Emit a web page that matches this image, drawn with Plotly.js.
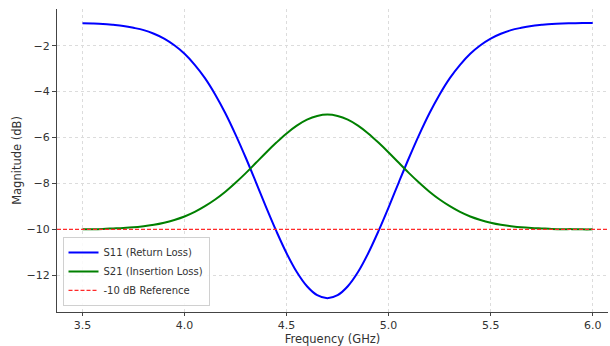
<!DOCTYPE html>
<html>
<head>
<meta charset="utf-8">
<script src="https://cdn.plot.ly/plotly-3.0.1.min.js"></script>
<style>html,body{margin:0;padding:0;background:#fff;}#chart{width:610px;height:346px;}</style>
</head>
<body>
<div id="chart"></div>
<script>
// Frequency points (GHz)
const freq = [3.50,3.55,3.60,3.65,3.70,3.75,3.80,3.85,3.90,3.95,
              4.00,4.05,4.10,4.15,4.20,4.25,4.30,4.35,4.40,4.45,
              4.50,4.55,4.60,4.65,4.70,4.75,4.80,4.85,4.90,4.95,
              5.00,5.05,5.10,5.15,5.20,5.25,5.30,5.35,5.40,5.45,
              5.50,5.55,5.60,5.65,5.70,5.75,5.80,5.85,5.90,5.95,6.00];
// S11 (Return Loss), dB
const s11 = [-1.02,-1.03,-1.05,-1.09,-1.14,-1.22,-1.32,-1.48,-1.69,-1.98,
             -2.35,-2.83,-3.41,-4.12,-4.94,-5.87,-6.88,-7.95,-9.04,-10.08,
             -11.04,-11.86,-12.48,-12.87,-13.00,-12.87,-12.48,-11.86,-11.04,-10.08,
             -9.04,-7.95,-6.88,-5.87,-4.94,-4.12,-3.41,-2.83,-2.35,-1.98,
             -1.69,-1.48,-1.32,-1.22,-1.14,-1.09,-1.05,-1.03,-1.02,-1.01,-1.01];
// S21 (Insertion Loss), dB
const s21 = [-9.99,-9.99,-9.98,-9.96,-9.94,-9.91,-9.86,-9.80,-9.71,-9.59,
             -9.44,-9.24,-8.99,-8.70,-8.36,-7.97,-7.55,-7.10,-6.65,-6.22,
             -5.82,-5.48,-5.22,-5.06,-5.00,-5.06,-5.22,-5.48,-5.82,-6.22,
             -6.65,-7.10,-7.55,-7.97,-8.36,-8.70,-8.99,-9.24,-9.44,-9.59,
             -9.71,-9.80,-9.86,-9.91,-9.94,-9.96,-9.98,-9.99,-9.99,-10.00,-10.00];
// Reference level (dB)
const refLevel = [-10, -10];
const refX = [3.375, 6.125];
const xRange = [3.375, 6.075];
const xTicks = [3.5, 4.0, 4.5, 5.0, 5.5, 6.0];
const xTickText = ["3.5", "4.0", "4.5", "5.0", "5.5", "6.0"];
const yTicks = [-2, -4, -6, -8, -10, -12];
const names = ["S11 (Return Loss)", "S21 (Insertion Loss)", "-10 dB Reference"];

const tickFont = {family: "DejaVu Sans, sans-serif", size: 11, color: "#333"};
const titleFont = {family: "DejaVu Sans, sans-serif", size: 11.5, color: "#333"};

const traces = [
  {x: freq, y: s11, type: "scatter", mode: "lines", name: names[0],
   line: {color: "#0000ff", width: 2, shape: "spline"}},
  {x: freq, y: s21, type: "scatter", mode: "lines", name: names[1],
   line: {color: "#008000", width: 2, shape: "spline"}},
  {x: refX, y: refLevel, type: "scatter", mode: "lines", name: names[2],
   line: {color: "#ff2a2a", width: 1.3, dash: "4px,2px"}}
];

const layout = {
  width: 610, height: 346,
  margin: {l: 57, r: 2, t: 9, b: 34},
  paper_bgcolor: "#fff", plot_bgcolor: "#fff",
  font: tickFont,
  showlegend: true,
  legend: {x: 0.01, y: 0.02, xanchor: "left", yanchor: "bottom",
           bgcolor: "rgba(255,255,255,0.85)", bordercolor: "#d0d0d0", borderwidth: 1,
           font: {family: "DejaVu Sans, sans-serif", size: 10, color: "#333"},
           itemwidth: 30, tracegroupgap: 0},
  xaxis: {range: xRange, tickvals: xTicks, ticktext: xTickText,
          showgrid: true, gridcolor: "#dcdcdc", griddash: "dot", gridwidth: 1,
          zeroline: false, showline: true, linecolor: "#444", linewidth: 1,
          ticks: "outside", ticklen: 3, tickcolor: "#444",
          title: {text: "Frequency (GHz)", font: titleFont, standoff: 2},
          tickfont: tickFont, automargin: false},
  yaxis: {range: [-13.6, -0.4], tickvals: yTicks,
          showgrid: true, gridcolor: "#dcdcdc", griddash: "dot", gridwidth: 1,
          zeroline: false, showline: true, linecolor: "#444", linewidth: 1,
          ticks: "outside", ticklen: 4, tickcolor: "#444",
          title: {text: "Magnitude (dB)", font: titleFont, standoff: 2},
          tickfont: tickFont, automargin: false}
};

Plotly.newPlot("chart", traces, layout, {displayModeBar: false, staticPlot: true});
</script>
</body>
</html>
